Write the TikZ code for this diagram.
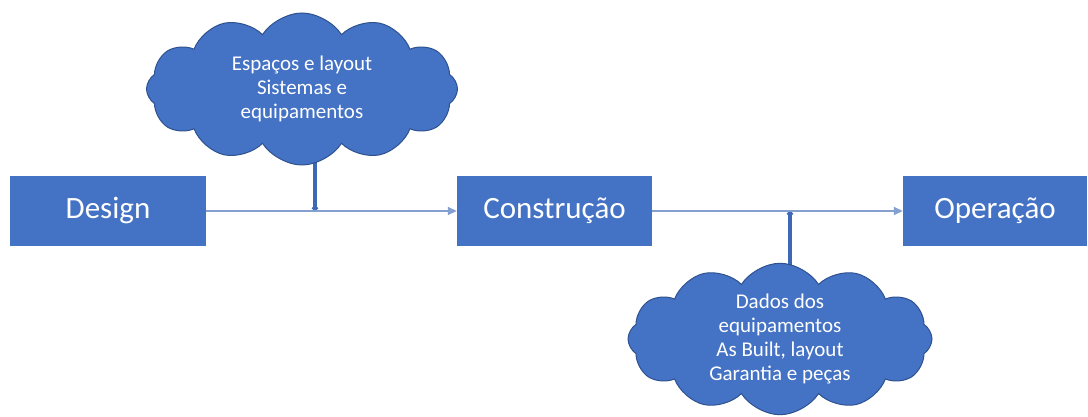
\documentclass[tikz,border=0pt]{standalone}
\usepackage{fontspec}
\setmainfont{Carlito}
\usetikzlibrary{shapes.symbols,arrows.meta,backgrounds}
\definecolor{boxblue}{RGB}{68,114,196}
\definecolor{cloudedge}{RGB}{47,82,143}
\definecolor{linkblue}{RGB}{132,160,208}
\definecolor{stemblue}{RGB}{62,104,182}
\tikzset{
  stage/.style={fill=boxblue, draw=none, text=white, font=\fontsize{31}{36}\selectfont,
    minimum width=196pt, minimum height=70pt, inner sep=0pt},
  note/.style={cloud, cloud puffs=12, cloud puff arc=115, cloud ignores aspect,
    fill=boxblue, draw=cloudedge, line width=1pt,
    text=white, align=center, font=\fontsize{21}{24}\selectfont, inner sep=0pt},
  flow/.style={draw=linkblue, line width=1.6pt, -{Triangle[length=9pt,width=8pt]}},
  stem/.style={draw=stemblue, line width=3.5pt, -{Circle[length=5.5pt]}},
}
\begin{document}
\begin{tikzpicture}[x=1pt,y=-1pt]
\useasboundingbox (0,0) rectangle (1088,417);
\node[stage] (design) at (108,211) {Design};
\node[stage, minimum width=195pt] (constr) at (554.5,211) {Construção};
\node[stage, minimum width=184pt] (oper) at (995,211) {Operação};
\coordinate (j1) at (315,211);
\coordinate (j2) at (790,211);
\node[note, minimum width=311pt, minimum height=152pt] (c1) at (302,89)
  {Espaços e layout\\Sistemas e\\equipamentos};
\node[note, minimum width=304pt, minimum height=146pt] (c2) at (780,339)
  {Dados dos\\equipamentos\\As Built, layout\\Garantia e peças};
\begin{scope}[on background layer]
\fill[white] (0,0) rectangle (1088,417);
\draw[stem] (c1.center -| j1) -- (j1);
\draw[stem] (c2.center -| j2) -- (j2);
\end{scope}
\draw[flow] (design) -- (constr);
\draw[flow] (constr) -- (oper);
\end{tikzpicture}
\end{document}
